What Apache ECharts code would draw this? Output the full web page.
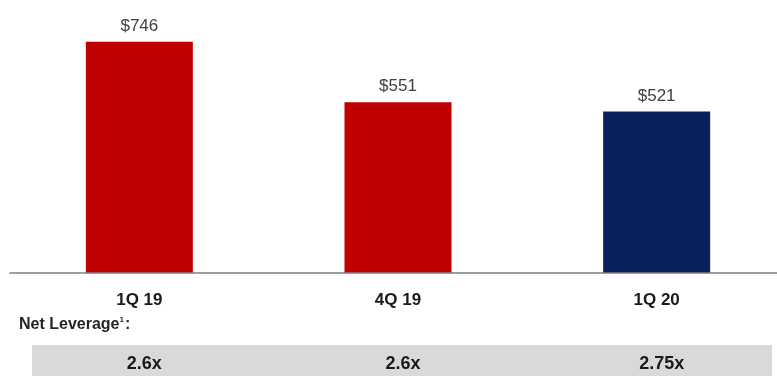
<!DOCTYPE html>
<html>
<head>
<meta charset="utf-8">
<script src="https://cdn.jsdelivr.net/npm/echarts@6/dist/echarts.min.js"></script>
<style>
  html, body { margin: 0; padding: 0; background: #ffffff; }
  #chart { width: 777px; height: 376px; }
</style>
</head>
<body>
<div id="chart"></div>
<script>
// Quarterly values ($) and net leverage per quarter
const quarters = ['1Q 19', '4Q 19', '1Q 20'];
const values = [746, 551, 521];
const barColors = ['#c00000', '#c00000', '#0b215e'];
const leverage = ['2.6x', '2.6x', '2.75x'];

const chart = echarts.init(document.getElementById('chart'));

const sans = '"Liberation Sans", Arial, sans-serif';

chart.setOption({
  animation: false,
  backgroundColor: '#ffffff',
  grid: {
    left: 10, width: 776, top: 25, bottom: 103,
    containLabel: false,
    outerBoundsMode: 'none'
  },
  xAxis: [
    {
      type: 'category',
      data: quarters,
      z: 10,
      axisLine: { show: true, lineStyle: { color: '#7f7f7f', width: 1.5 } },
      axisTick: { show: false },
      axisLabel: {
        margin: 19,
        fontFamily: sans,
        fontWeight: 'bold',
        fontSize: 17,
        color: '#1a1a1a'
      }
    },
    {
      type: 'category',
      data: leverage,
      position: 'bottom',
      offset: 82,
      z: 10,
      axisLine: { show: false },
      axisTick: { show: false },
      axisLabel: {
        margin: 0,
        padding: [0, 0, 0, 10],
        fontFamily: sans,
        fontWeight: 'bold',
        fontSize: 18,
        color: '#1a1a1a'
      }
    }
  ],
  yAxis: {
    type: 'value',
    min: 0,
    max: 800,
    show: false,
    splitLine: { show: false }
  },
  graphic: {
    elements: [
      {
        type: 'rect',
        z: -10,
        shape: { x: 32, y: 345, width: 740, height: 31 },
        style: { fill: '#d9d9d9' }
      },
      {
        type: 'text',
        left: 19,
        top: 316,
        style: {
          text: '{t|Net Leverage}{s|1}{t|:}',
          rich: {
            t: { fontFamily: sans, fontWeight: 'bold', fontSize: 16, fill: '#262626' },
            s: { fontFamily: sans, fontWeight: 'bold', fontSize: 8, fill: '#262626', verticalAlign: 'top', padding: [0, 1, 9, 0] }
          }
        }
      }
    ]
  },
  series: [
    {
      type: 'bar',
      data: values.map((v, i) => ({ value: v, itemStyle: { color: barColors[i] } })),
      barWidth: 107,
      label: {
        show: true,
        position: 'top',
        distance: 7,
        formatter: p => '$' + p.value,
        fontFamily: sans,
        fontSize: 17,
        color: '#404040'
      }
    }
  ]
});
</script>
</body>
</html>
